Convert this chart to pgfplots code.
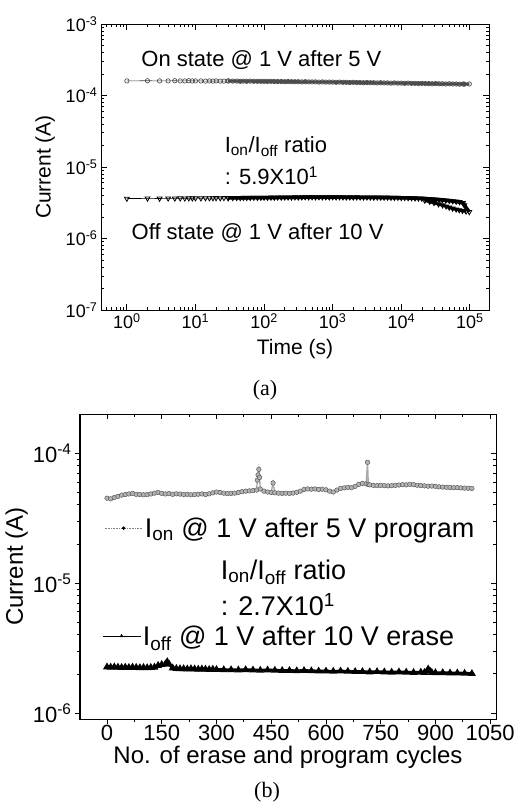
\documentclass[border=0pt]{standalone}
\usepackage{fontspec}
\setmainfont{Liberation Sans}
\newfontfamily\capfont{Liberation Serif}
\usepackage{pgfplots}
\pgfplotsset{compat=1.18}
\usepackage{pgfplotstable}

% (a) retention, sparse start: time (s), on and off current (A)
\pgfplotstableread{
t on off
1 1.60e-4 3.62e-6
2 1.61e-4 3.64e-6
3 1.60e-4 3.63e-6
4 1.60e-4 3.65e-6
5 1.61e-4 3.64e-6
6 1.60e-4 3.66e-6
7 1.60e-4 3.65e-6
8 1.61e-4 3.66e-6
9 1.60e-4 3.66e-6
10 1.60e-4 3.67e-6
12 1.60e-4 3.66e-6
14 1.59e-4 3.68e-6
16 1.60e-4 3.67e-6
18 1.59e-4 3.68e-6
20 1.60e-4 3.69e-6
23 1.59e-4 3.68e-6
26 1.59e-4 3.70e-6
30 1.60e-4 3.69e-6
}\retA

% (a) retention, dense part
\pgfplotstableread{
t on off
30 1.60e-4 3.69e-6
35 1.59e-4 3.70e-6
40 1.59e-4 3.71e-6
45 1.58e-4 3.70e-6
50 1.59e-4 3.72e-6
56 1.58e-4 3.71e-6
63 1.59e-4 3.72e-6
71 1.58e-4 3.73e-6
80 1.58e-4 3.72e-6
90 1.58e-4 3.73e-6
100 1.58e-4 3.74e-6
112 1.57e-4 3.73e-6
126 1.58e-4 3.75e-6
141 1.57e-4 3.74e-6
158 1.57e-4 3.76e-6
178 1.57e-4 3.75e-6
200 1.56e-4 3.76e-6
224 1.57e-4 3.77e-6
251 1.56e-4 3.76e-6
282 1.56e-4 3.78e-6
316 1.56e-4 3.77e-6
355 1.55e-4 3.78e-6
398 1.56e-4 3.79e-6
447 1.55e-4 3.78e-6
501 1.55e-4 3.79e-6
562 1.55e-4 3.78e-6
631 1.54e-4 3.79e-6
708 1.55e-4 3.78e-6
794 1.54e-4 3.79e-6
891 1.54e-4 3.78e-6
1000 1.54e-4 3.79e-6
1122 1.53e-4 3.78e-6
1259 1.54e-4 3.79e-6
1413 1.53e-4 3.78e-6
1585 1.53e-4 3.77e-6
1778 1.52e-4 3.78e-6
1995 1.53e-4 3.77e-6
2239 1.52e-4 3.78e-6
2512 1.52e-4 3.77e-6
2818 1.51e-4 3.76e-6
3162 1.52e-4 3.77e-6
3548 1.51e-4 3.76e-6
3981 1.51e-4 3.75e-6
4467 1.50e-4 3.76e-6
5012 1.51e-4 3.75e-6
5623 1.50e-4 3.74e-6
6310 1.50e-4 3.75e-6
7079 1.49e-4 3.73e-6
7943 1.50e-4 3.72e-6
8913 1.49e-4 3.73e-6
10000 1.49e-4 3.71e-6
11220 1.48e-4 3.70e-6
12589 1.49e-4 3.69e-6
14125 1.48e-4 3.68e-6
15849 1.48e-4 3.66e-6
17783 1.47e-4 3.65e-6
19953 1.48e-4 3.63e-6
22387 1.47e-4 3.61e-6
25119 1.47e-4 3.58e-6
28184 1.46e-4 3.55e-6
31623 1.47e-4 3.52e-6
35481 1.46e-4 3.49e-6
39811 1.46e-4 3.46e-6
44668 1.45e-4 3.42e-6
50119 1.46e-4 3.38e-6
56234 1.45e-4 3.34e-6
63096 1.45e-4 3.29e-6
70795 1.44e-4 3.24e-6
79433 1.45e-4 3.15e-6
83000 1.44e-4 2.92e-6
98000 1.45e-4 2.35e-6
}\retB

% lower edge of the off-state band near the end
\pgfplotstableread{
t off
22000 3.40e-6
26000 3.28e-6
30000 3.15e-6
35000 3.02e-6
40000 2.92e-6
45000 2.82e-6
50000 2.72e-6
56000 2.63e-6
63000 2.56e-6
70000 2.50e-6
78000 2.45e-6
88000 2.40e-6
}\offspread

% (b) endurance: cycle, I_on (A)
\pgfplotstableread{
n ion
0 4.50e-5
10 4.45e-5
20 4.55e-5
30 4.65e-5
40 4.75e-5
50 4.80e-5
60 4.85e-5
70 4.90e-5
80 4.82e-5
90 4.80e-5
100 4.78e-5
110 4.80e-5
120 4.85e-5
130 4.92e-5
140 4.98e-5
150 4.90e-5
160 4.85e-5
170 4.88e-5
180 4.82e-5
190 4.86e-5
200 4.84e-5
210 4.80e-5
220 4.82e-5
230 4.78e-5
240 4.80e-5
250 4.83e-5
260 4.85e-5
270 4.80e-5
280 4.86e-5
290 4.95e-5
300 5.02e-5
310 4.98e-5
320 4.92e-5
330 4.88e-5
340 4.90e-5
350 4.92e-5
360 4.98e-5
370 5.05e-5
380 5.10e-5
390 5.12e-5
400 5.15e-5
410 5.20e-5
412 6.20e-5
414 6.80e-5
416 7.50e-5
418 6.50e-5
420 5.30e-5
430 5.10e-5
440 5.02e-5
450 4.98e-5
455 5.90e-5
460 4.95e-5
470 4.92e-5
480 4.90e-5
490 4.92e-5
500 4.90e-5
510 4.93e-5
520 5.00e-5
530 5.10e-5
540 5.25e-5
550 5.30e-5
560 5.28e-5
570 5.30e-5
580 5.25e-5
590 5.28e-5
600 5.22e-5
610 5.10e-5
620 5.02e-5
630 5.20e-5
640 5.35e-5
650 5.40e-5
660 5.45e-5
670 5.42e-5
680 5.55e-5
690 5.75e-5
700 5.85e-5
710 5.80e-5
714 8.50e-5
716 5.75e-5
720 5.70e-5
730 5.65e-5
740 5.62e-5
750 5.65e-5
760 5.62e-5
770 5.60e-5
780 5.62e-5
790 5.65e-5
800 5.68e-5
810 5.72e-5
820 5.70e-5
830 5.75e-5
840 5.72e-5
850 5.66e-5
860 5.63e-5
870 5.60e-5
880 5.57e-5
890 5.58e-5
900 5.55e-5
910 5.50e-5
920 5.48e-5
930 5.46e-5
940 5.44e-5
950 5.42e-5
960 5.43e-5
970 5.40e-5
980 5.38e-5
990 5.37e-5
1000 5.35e-5
}\endon

% (b) endurance: cycle, I_off (A)
\pgfplotstableread{
n ioff
0 2.26e-6
10 2.25e-6
20 2.26e-6
30 2.25e-6
40 2.24e-6
50 2.25e-6
60 2.24e-6
70 2.25e-6
80 2.24e-6
90 2.23e-6
100 2.24e-6
110 2.23e-6
120 2.24e-6
130 2.25e-6
140 2.32e-6
150 2.36e-6
160 2.38e-6
165 2.48e-6
170 2.38e-6
180 2.22e-6
190 2.20e-6
200 2.19e-6
210 2.19e-6
220 2.18e-6
230 2.19e-6
240 2.18e-6
250 2.17e-6
260 2.18e-6
270 2.17e-6
280 2.16e-6
290 2.17e-6
300 2.16e-6
320 2.15e-6
340 2.15e-6
360 2.14e-6
380 2.15e-6
400 2.14e-6
420 2.13e-6
440 2.14e-6
460 2.13e-6
480 2.12e-6
500 2.12e-6
520 2.11e-6
540 2.12e-6
560 2.11e-6
580 2.10e-6
600 2.10e-6
620 2.09e-6
640 2.10e-6
660 2.09e-6
680 2.08e-6
700 2.08e-6
720 2.07e-6
740 2.08e-6
760 2.07e-6
780 2.06e-6
800 2.07e-6
820 2.06e-6
840 2.05e-6
860 2.06e-6
870 2.05e-6
880 2.18e-6
885 2.10e-6
890 2.05e-6
900 2.04e-6
920 2.04e-6
940 2.03e-6
960 2.03e-6
980 2.02e-6
1000 2.01e-6
}\endoff

\pgfplotsset{
  every axis/.append style={
    scale only axis,
    axis line style={line width=1pt},
    tick style={black, line width=0.8pt},
  },
}

\begin{document}
\begin{tikzpicture}
\path[use as bounding box] (0pt,0pt) rectangle (514pt,-812pt);

% ---------------- (a) ----------------
\begin{axis}[
  at={(101pt,-310pt)}, anchor=south west,
  width=388pt, height=286pt,
  xmode=log, ymode=log,
  xmin=0.42, xmax=1.9e5, ymin=1e-7, ymax=1e-3,
  xtick={1,10,100,1000,10000,100000},
  xticklabels={10\textsuperscript{0},10\textsuperscript{1},10\textsuperscript{2},10\textsuperscript{3},10\textsuperscript{4},10\textsuperscript{5}},
  minor xtick={0.5,0.6,0.7,0.8,0.9,2,3,4,5,6,7,8,9,20,30,40,50,60,70,80,90,200,300,400,500,600,700,800,900,2000,3000,4000,5000,6000,7000,8000,9000,20000,30000,40000,50000,60000,70000,80000,90000},
  ytick={1e-7,1e-6,1e-5,1e-4,1e-3},
  yticklabels={10\textsuperscript{-7},10\textsuperscript{-6},10\textsuperscript{-5},10\textsuperscript{-4},10\textsuperscript{-3}},
  minor ytick={2e-7,3e-7,4e-7,5e-7,6e-7,7e-7,8e-7,9e-7,2e-6,3e-6,4e-6,5e-6,6e-6,7e-6,8e-6,9e-6,2e-5,3e-5,4e-5,5e-5,6e-5,7e-5,8e-5,9e-5,2e-4,3e-4,4e-4,5e-4,6e-4,7e-4,8e-4,9e-4},
  tick align=inside, major tick length=6pt, minor tick length=3pt,
  ticklabel style={font=\fontsize{18}{20}\selectfont},
  xlabel={Time (s)}, ylabel={Current (A)},
  label style={font=\fontsize{21}{24}\selectfont},
  xlabel style={yshift=-4pt},
  ylabel style={yshift=4pt},
]
% on state
\addplot[black!75, line width=0.6pt, mark=o, mark size=2.2pt] table[x=t, y=on] {\retA};
\addplot[black!70, line width=3pt, mark=o, mark size=2.2pt, mark options={line width=0.7pt}] table[x=t, y=on] {\retB};
% off state
\addplot[black, line width=0.6pt, mark=triangle, mark size=2.8pt, mark options={rotate=180, line width=0.8pt}] table[x=t, y=off] {\retA};
\addplot[black, line width=3.6pt, mark=triangle, mark size=2.8pt, mark options={rotate=180, line width=0.8pt}] table[x=t, y=off] {\retB};
\addplot[black, line width=3pt, mark=triangle, mark size=2.8pt, mark options={rotate=180, line width=0.8pt}] table[x=t, y=off] {\offspread};
\node[anchor=west, font=\fontsize{22}{24}\selectfont] at (axis description cs:0.095,0.874) {On state @ 1 V after 5 V};
\node[anchor=west, font=\fontsize{22}{24}\selectfont] at (axis description cs:0.31,0.573) {I\textsubscript{on}/I\textsubscript{off} ratio};
\node[anchor=west, font=\fontsize{22}{24}\selectfont] at (axis description cs:0.31,0.469) {: 5.9X10\textsuperscript{1}};
\node[anchor=west, font=\fontsize{22}{24}\selectfont] at (axis description cs:0.07,0.269) {Off state @ 1 V after 10 V};
\end{axis}
\node[font=\capfont\fontsize{22}{24}\selectfont] at (265pt,-390pt) {(a)};

% ---------------- (b) ----------------
\begin{axis}[
  at={(80pt,-719pt)}, anchor=south west,
  width=416pt, height=305pt,
  ymode=log,
  xmin=-74, xmax=1066, ymin=8.99e-7, ymax=2.0e-4,
  xtick={0,150,300,450,600,750,900,1050},
  xticklabels={0,150,300,450,600,750,900,1050},
  minor xtick={75,225,375,525,675,825,975},
  ytick={1e-6,1e-5,1e-4},
  minor ytick={2e-6,3e-6,4e-6,5e-6,6e-6,7e-6,8e-6,9e-6,2e-5,3e-5,4e-5,5e-5,6e-5,7e-5,8e-5,9e-5},
  major tick length=5pt, minor tick length=3pt,
  tick align=outside, xtick pos=left, ytick pos=left,
  yticklabels={10\textsuperscript{-6},10\textsuperscript{-5},10\textsuperscript{-4}},
  ticklabel style={font=\fontsize{22}{24}\selectfont},
  xticklabel style={inner sep=1pt},
  xlabel={No. of erase and program cycles}, ylabel={Current (A)},
  label style={font=\fontsize{24}{26}\selectfont},
  xlabel style={at={(axis description cs:0.5,0)}, anchor=north, inner sep=0pt, yshift=-27pt},
  ylabel style={yshift=-2pt},
  legend image code/.code={
    \draw[mark repeat=2, mark phase=2, #1] plot coordinates {(0pt,0pt) (19pt,0pt) (38pt,0pt)};
  },
  legend style={at={(axis description cs:0.058,0.626)}, anchor=west, draw=none, fill=none,
    font=\fontsize{27}{29}\selectfont, inner sep=0pt},
]
\addplot[gray!65, line width=1.4pt, mark=*, mark size=2.3pt,
  mark options={fill=gray!60, draw=black!70, line width=0.4pt}, forget plot] table[x=n, y=ion] {\endon};
\addlegendimage{gray, densely dotted, line width=0.6pt, mark=*, mark size=1.4pt, mark options={solid, black}}
\addlegendentry{I\textsubscript{on} @ 1 V after 5 V program}
\node[anchor=west, font=\fontsize{27}{29}\selectfont] at (axis description cs:0.33,0.482) {I\textsubscript{on}/I\textsubscript{off} ratio};
\node[anchor=west, font=\fontsize{27}{29}\selectfont] at (axis description cs:0.33,0.374) {: 2.7X10\textsuperscript{1}};
\end{axis}
\begin{axis}[
  at={(80pt,-719pt)}, anchor=south west,
  width=416pt, height=305pt,
  ymode=log,
  xmin=-74, xmax=1066, ymin=8.99e-7, ymax=2.0e-4,
  xtick={0,150,300,450,600,750,900,1050},
  minor xtick={75,225,375,525,675,825,975},
  ytick={1e-6,1e-5,1e-4},
  minor ytick={2e-6,3e-6,4e-6,5e-6,6e-6,7e-6,8e-6,9e-6,2e-5,3e-5,4e-5,5e-5,6e-5,7e-5,8e-5,9e-5},
  major tick length=5pt, minor tick length=3pt,
  tick align=inside, xtick pos=right, ytick pos=right,
  xticklabels={}, yticklabels={},
  legend image code/.code={
    \draw[mark repeat=2, mark phase=2, #1] plot coordinates {(0pt,0pt) (19pt,0pt) (38pt,0pt)};
  },
  legend style={at={(axis description cs:0.053,0.272)}, anchor=west, draw=none, fill=none,
    font=\fontsize{27}{29}\selectfont, inner sep=0pt},
]
\addplot[black, line width=3pt, mark=triangle*, mark size=1.6pt, forget plot] table[x=n, y=ioff] {\endoff};
\addlegendimage{black, line width=0.6pt, mark=triangle*, mark size=1.6pt}
\addlegendentry{I\textsubscript{off} @ 1 V after 10 V erase}
\end{axis}
\node[font=\capfont\fontsize{22}{24}\selectfont] at (267pt,-792pt) {(b)};
\end{tikzpicture}
\end{document}
